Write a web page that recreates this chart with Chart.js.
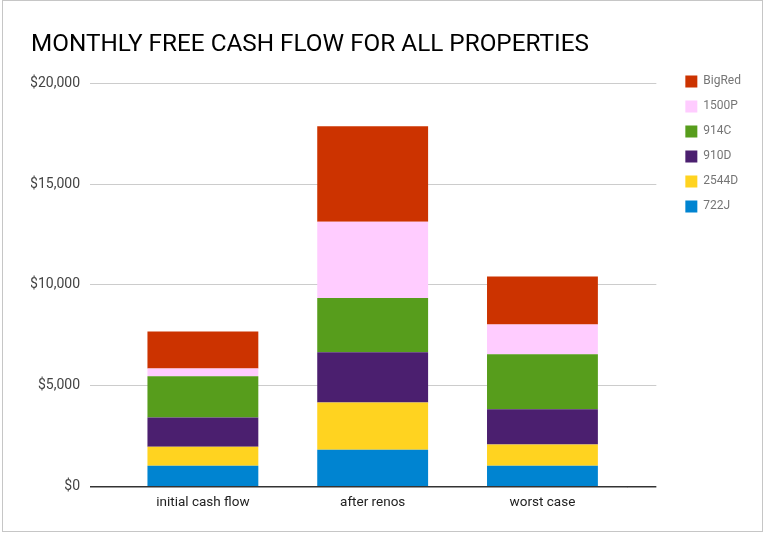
<!DOCTYPE html>
<html>
<head>
<meta charset="utf-8">
<script src="https://cdn.jsdelivr.net/npm/chart.js@4"></script>
<style>
    html, body { margin: 0; padding: 0; background: #fff; }
    #frame {
        position: absolute; left: 2px; top: 0; width: 759px; height: 530px;
        border: 1px solid #c6c6c6;
    }
    #wrap { position: absolute; left: 0; top: 0; width: 768px; height: 540px; }
</style>
</head>
<body>
<div id="frame"></div>
<div id="wrap"><canvas id="cashChart" width="768" height="540"></canvas></div>
<script>
// Data
const scenarios = ['initial cash flow', 'after renos', 'worst case'];
const seriesNames = ['722J', '2544D', '910D', '914C', '1500P', 'BigRed'];
const seriesColors = ['#0084D1', '#FFD320', '#4B1F6F', '#579D1C', '#FFCCFF', '#CC3300'];
const flow722J = [1045, 1840, 1045];
const flow2544D = [945, 2340, 1045];
const flow910D = [1443, 2490, 1756];
const flow914C = [2040, 2690, 2720];
const flow1500P = [383, 3770, 1478];
const flowBigRed = [1840, 4740, 2370];
const yTicks = [0, 5000, 10000, 15000, 20000];

const seriesValues = [flow722J, flow2544D, flow910D, flow914C, flow1500P, flowBigRed];

const gridColor = (ctx) => (ctx.tick && ctx.tick.value === 0 ? '#333333' : '#cccccc');
const gridWidth = (ctx) => (ctx.tick && ctx.tick.value === 0 ? 1.5 : 1);

document.addEventListener('DOMContentLoaded', () => {
    const ctx = document.getElementById('cashChart').getContext('2d');

    new Chart(ctx, {
        type: 'bar',
        data: {
            labels: scenarios,
            datasets: seriesNames.map((name, i) => ({
                label: name,
                data: seriesValues[i],
                backgroundColor: seriesColors[i],
                borderWidth: 0,
                barPercentage: 0.653,
                categoryPercentage: 1
            }))
        },
        options: {
            responsive: false,
            animation: false,
            layout: { padding: { left: 31, right: 17, top: 0, bottom: 29 } },
            plugins: {
                title: {
                    display: true,
                    text: 'MONTHLY FREE CASH FLOW FOR ALL PROPERTIES',
                    align: 'start',
                    color: '#000000',
                    font: { family: 'Roboto', size: 24.3, weight: 'normal', lineHeight: 1.2 },
                    padding: { top: 30, bottom: 24 }
                },
                legend: {
                    position: 'right',
                    align: 'start',
                    reverse: true,
                    title: {
                        display: true,
                        text: ' ',
                        font: { family: 'Roboto', size: 12, lineHeight: 1.2 },
                        padding: { top: 48, bottom: 0 }
                    },
                    labels: {
                        boxWidth: 12,
                        boxHeight: 12,
                        padding: 13,
                        color: '#757575',
                        font: { family: 'Roboto', size: 12 }
                    }
                },
                tooltip: { enabled: false }
            },
            scales: {
                x: {
                    stacked: true,
                    grid: { display: false },
                    border: { display: false },
                    ticks: {
                        color: '#222222',
                        padding: 0,
                        font: { family: 'Roboto', size: 13.5 }
                    }
                },
                y: {
                    stacked: true,
                    min: 0,
                    max: 20000,
                    afterBuildTicks: (axis) => { axis.ticks = yTicks.map(v => ({ value: v })); },
                    afterFit: (axis) => { axis.width = 87; },
                    grid: { color: gridColor, lineWidth: gridWidth, tickLength: 28 },
                    border: { display: false },
                    ticks: {
                        color: '#444444',
                        padding: 10,
                        font: { family: 'Roboto', size: 14 },
                        callback: (v) => '$' + v.toLocaleString('en-US')
                    }
                },
                yRight: {
                    position: 'right',
                    min: 0,
                    max: 20000,
                    afterBuildTicks: (axis) => { axis.ticks = yTicks.map(v => ({ value: v })); },
                    afterFit: (axis) => { axis.width = 45; },
                    grid: { color: gridColor, lineWidth: gridWidth, tickLength: 29, drawOnChartArea: false },
                    border: { display: false },
                    ticks: { display: false }
                }
            }
        }
    });
});
</script>
</body>
</html>
